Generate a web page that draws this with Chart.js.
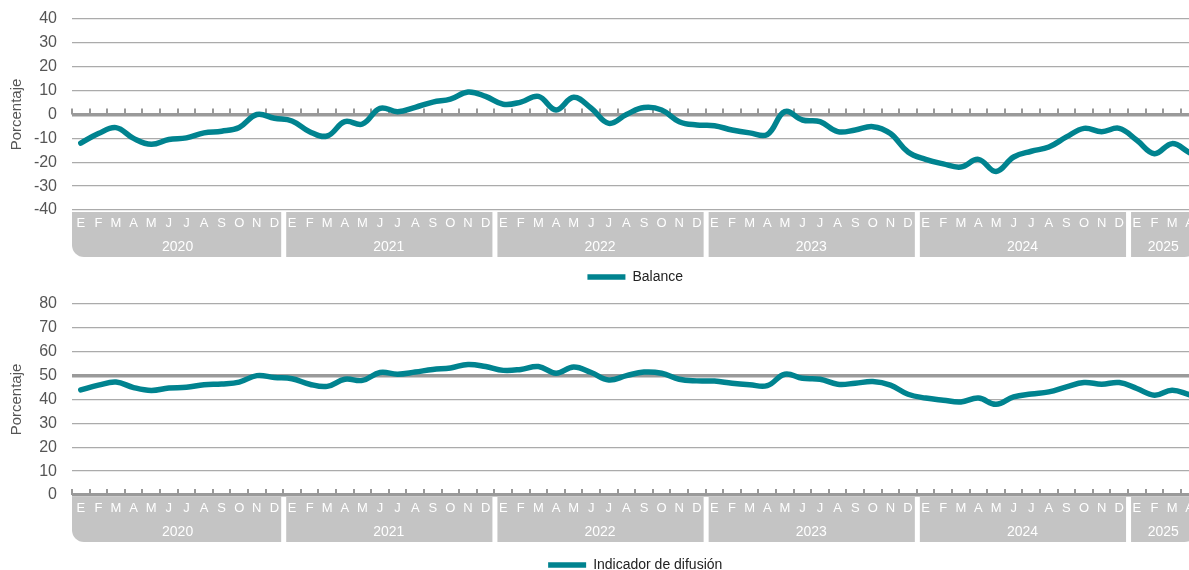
<!DOCTYPE html>
<html>
<head>
<meta charset="utf-8">
<title>Balance e indicador de difusión</title>
<script src="https://cdn.jsdelivr.net/npm/chart.js"></script>
<style>
    html, body { margin: 0; padding: 0; background: #fff; overflow: hidden; }
    .panel { position: relative; width: 1200px; height: 285px; }
</style>
</head>
<body>
<div class="panel"><canvas id="balanceChart"></canvas></div>
<div class="panel"><canvas id="difusionChart"></canvas></div>

<script>
// datos (mensual, ene-2020 a abr-2025)
const anios = ['2020', '2021', '2022', '2023', '2024', '2025'];
const mesesPorAnio = [12, 12, 12, 12, 12, 4];
const letrasMes = ['E', 'F', 'M', 'A', 'M', 'J', 'J', 'A', 'S', 'O', 'N', 'D'];

const balance = [
    -12, -8, -5.5, -10, -12.5, -10.5, -9.8, -7.7, -7, -5.4, 0, -1.6,
    -2.7, -7.2, -9, -3, -4, 2.6, 1.2, 3, 5.2, 6.4, 9.4, 7.6,
    4.3, 5.2, 7.6, 1.9, 7.2, 2.6, -3.7, 0, 2.9, 1.9, -3, -4.4,
    -4.7, -6.5, -7.7, -8.4, 1.2, -2.3, -3, -7.2, -6.5, -5.1, -8, -15.7,
    -18.8, -20.7, -22, -18.8, -23.9, -17.8, -15.4, -13.6, -9.4, -5.8, -7.2, -5.8,
    -10.8, -16.4, -12.2, -16
];
const difusion = [
    44, 46, 47.3, 45, 43.8, 44.8, 45.1, 46.2, 46.5, 47.3, 50, 49.2,
    48.7, 46.4, 45.5, 48.5, 48, 51.3, 50.6, 51.5, 52.6, 53.2, 54.7, 53.8,
    52.2, 52.6, 53.8, 51, 53.6, 51.3, 48.2, 50, 51.5, 51, 48.5, 47.8,
    47.7, 46.8, 46.2, 45.8, 50.6, 48.9, 48.5, 46.4, 46.8, 47.5, 46, 42.2,
    40.6, 39.7, 39, 40.6, 38, 41.1, 42.3, 43.2, 45.3, 47.1, 46.4, 47.1,
    44.6, 41.8, 43.9, 42
];

const meses = [];
anios.forEach((a, k) => {
    for (let m = 0; m < mesesPorAnio[k]; m++) meses.push(letrasMes[m]);
});

const TEAL = '#00838f';
const FUENTE = '"Liberation Sans", Arial, sans-serif';

// cajas grises con los años + marcas de mes sobre la línea del eje
const bandasAnio = {
    id: 'bandasAnio',
    beforeDraw(chart) {
        const {ctx, chartArea: ca, scales: {x}} = chart;
        const paso = x.getPixelForValue(1) - x.getPixelForValue(0);
        const top = ca.bottom + 2, alto = 45;
        ctx.save();
        ctx.fillStyle = '#c4c4c4';
        let i0 = 0;
        anios.forEach((a, k) => {
            const n = mesesPorAnio[k];
            const x0 = x.getPixelForValue(i0) - paso / 2 + (k ? 3 : 0);
            const x1 = x.getPixelForValue(i0 + n - 1) + paso / 2 - 2;
            const r = [0, 0, k === anios.length - 1 ? 12 : 0, k === 0 ? 12 : 0];
            ctx.beginPath();
            ctx.roundRect(x0, top, x1 - x0, alto, r);
            ctx.fill();
            i0 += n;
        });
        ctx.restore();
    },
    beforeDatasetsDraw(chart, args, opts) {
        const {ctx, scales: {x, y}} = chart;
        const paso = x.getPixelForValue(1) - x.getPixelForValue(0);
        const yEje = y.getPixelForValue(opts.valorEje);
        ctx.save();
        ctx.strokeStyle = '#999';
        ctx.lineWidth = 2;
        ctx.beginPath();
        for (let k = 0; k <= meses.length; k++) {
            const xk = Math.round(x.getPixelForValue(0) - paso / 2 + k * paso);
            ctx.moveTo(xk, yEje);
            ctx.lineTo(xk, yEje - 6);
        }
        ctx.stroke();
        ctx.restore();
    },
    afterDraw(chart) {
        const {ctx, chartArea: ca, scales: {x}} = chart;
        ctx.save();
        ctx.fillStyle = '#fff';
        ctx.font = '14px ' + FUENTE;
        ctx.textAlign = 'center';
        ctx.textBaseline = 'middle';
        let i0 = 0;
        anios.forEach((a, k) => {
            const n = mesesPorAnio[k];
            const xc = (x.getPixelForValue(i0) + x.getPixelForValue(i0 + n - 1)) / 2;
            ctx.fillText(a, xc, ca.bottom + 37);
            i0 += n;
        });
        ctx.restore();
    },
    afterLayout(chart, args, opts) {
        // centrar la leyenda sobre el área del gráfico y bajarla un poco
        const lg = chart.legend, ca = chart.chartArea;
        if (!lg) return;
        const dx = (ca.left + ca.right) / 2 - (lg.left + lg.right) / 2;
        lg.left += dx;
        lg.right += dx;
        lg.top += opts.bajarLeyenda;
        lg.bottom += opts.bajarLeyenda;
    }
};

function crearGrafico(id, etiqueta, valores, min, max, valorEje, gruesas, bajar) {
    return new Chart(document.getElementById(id), {
        type: 'line',
        data: {
            labels: meses,
            datasets: [{
                label: etiqueta,
                data: valores,
                borderColor: TEAL,
                backgroundColor: TEAL,
                borderWidth: 5.5,
                borderCapStyle: 'round',
                borderJoinStyle: 'round',
                tension: 0.4,
                pointRadius: 0,
                pointHoverRadius: 0
            }]
        },
        options: {
            responsive: true,
            maintainAspectRatio: false,
            animation: false,
            layout: { padding: { top: 19, right: 0, left: 0, bottom: 0 } },
            scales: {
                x: {
                    offset: true,
                    grid: { display: false, drawTicks: false },
                    border: { display: false },
                    ticks: {
                        autoSkip: false,
                        maxRotation: 0,
                        color: '#fff',
                        padding: 6,
                        font: { family: FUENTE, size: 13 }
                    },
                    afterFit: (s) => { s.height = 49; }
                },
                y: {
                    min: min,
                    max: max,
                    border: { display: false },
                    grid: {
                        drawTicks: true,
                        tickLength: 15,
                        tickColor: 'rgba(0,0,0,0)',
                        color: (c) => gruesas.includes(c.tick.value) ? '#9a9a9a' : '#ababab',
                        lineWidth: (c) => gruesas.includes(c.tick.value) ? 3.5 : 1.3
                    },
                    ticks: {
                        stepSize: 10,
                        autoSkip: false,
                        padding: 0,
                        color: '#555',
                        font: { family: FUENTE, size: 16 }
                    },
                    title: {
                        display: true,
                        text: 'Porcentaje',
                        color: '#555',
                        padding: { top: 8, bottom: 0 },
                        font: { family: FUENTE, size: 15 }
                    },
                    afterFit: (s) => { s.width = 72; }
                }
            },
            plugins: {
                bandasAnio: { valorEje: valorEje, bajarLeyenda: bajar },
                tooltip: { enabled: false },
                legend: {
                    position: 'bottom',
                    labels: {
                        usePointStyle: true,
                        pointStyle: 'line',
                        pointStyleWidth: 38,
                        padding: 2,
                        color: '#222',
                        font: { family: FUENTE, size: 14 }
                    }
                }
            }
        },
        plugins: [bandasAnio]
    });
}

crearGrafico('balanceChart', 'Balance', balance, -40, 40, 0, [0], 9);
crearGrafico('difusionChart', 'Indicador de difusión', difusion, 0, 80, 0, [0, 50], 12);
</script>
</body>
</html>
